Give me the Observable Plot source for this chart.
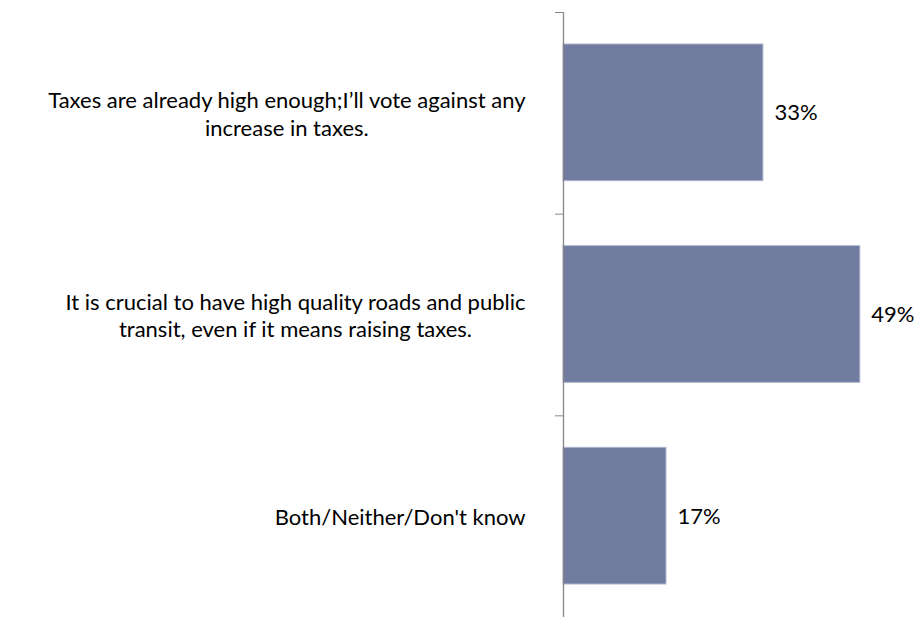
<!DOCTYPE html>
<html>
<head>
<meta charset="utf-8">
<script src="https://cdn.jsdelivr.net/npm/d3@7"></script>
<script src="https://cdn.jsdelivr.net/npm/@observablehq/plot@0.6"></script>
<style>
  html, body { margin: 0; padding: 0; background: #fff; }
</style>
</head>
<body>
<div id="chart"></div>
<script>
const categories = [
  "Taxes are already high enough;I’ll vote against any\nincrease in taxes.",
  "It is crucial to have high quality roads and public\ntransit, even if it means raising taxes.",
  "Both/Neither/Don't know"
];
const values = [33, 49, 17];
const valueLabels = ["33%", "49%", "17%"];

const data = categories.map((c, i) => ({i, label: c, value: values[i], valueLabel: valueLabels[i]}));
const boundaries = d3.range(categories.length + 1);

const axisColor = "#868686";

const chart = Plot.plot({
  width: 921,
  height: 617,
  marginLeft: 563,
  marginRight: 0,
  marginTop: 12,
  marginBottom: 0,
  x: {domain: [0, 59.1], axis: null},
  y: {domain: [0, categories.length], reverse: true, axis: null},
  style: {fontFamily: "Lato, 'Noto Sans', sans-serif", fontSize: "22px", color: "#000", background: "#fff"},
  marks: [
    Plot.rectX(data, {
      x1: 0, x2: "value",
      y1: d => d.i, y2: d => d.i + 1,
      insetTop: 32, insetBottom: 33,
      fill: "#717BA0", stroke: "#aeb5cf", strokeWidth: 1
    }),
    Plot.ruleX([0], {stroke: axisColor, strokeWidth: 1.3}),
    Plot.axisY(boundaries, {tickSize: 8, tickFormat: () => "", stroke: axisColor}),
    Plot.text(data, {
      x: 0, y: d => d.i + 0.5, text: "label",
      textAnchor: "end", dx: -38, lineHeight: 1.23, fill: "#000"
    }),
    Plot.text(data, {
      x: "value", y: d => d.i + 0.5, text: "valueLabel",
      textAnchor: "start", dx: 11, fill: "#000"
    })
  ]
});

document.getElementById("chart").appendChild(chart);

// Center multi-line category labels within their right-aligned block
chart.querySelectorAll("text").forEach(t => {
  const spans = t.querySelectorAll("tspan");
  if (spans.length > 1) {
    let w = 0;
    spans.forEach(s => { w = Math.max(w, s.getComputedTextLength()); });
    t.setAttribute("text-anchor", "middle");
    spans.forEach(s => s.setAttribute("x", -w / 2));
  }
});
</script>
</body>
</html>
